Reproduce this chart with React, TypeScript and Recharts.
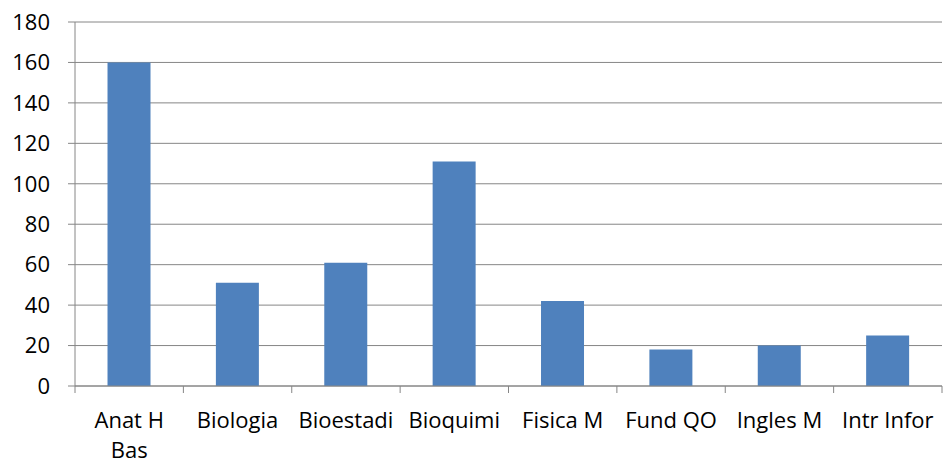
import React from 'react';
import { BarChart, Bar, XAxis, YAxis, CartesianGrid } from 'recharts';

const categories = ['Anat H Bas', 'Biologia', 'Bioestadi', 'Bioquimi', 'Fisica M', 'Fund QO', 'Ingles M', 'Intr Infor'];
const values = [160, 51, 61, 111, 42, 18, 20, 25];
const yTicks = [0, 20, 40, 60, 80, 100, 120, 140, 160, 180];

const data = categories.map((name, i) => ({ name, value: values[i] }));

const W = 943;
const H = 465;
const Y_AXIS_W = 75;
const RIGHT = 1;
const band = (W - Y_AXIS_W - RIGHT) / categories.length;
const axisGrey = '#868686';
const font = '"Open Sans", Lato, sans-serif';
const FONT_SIZE = 22;

let ctx: CanvasRenderingContext2D | null = null;
const measure = (s: string) => {
  if (!ctx) ctx = document.createElement('canvas').getContext('2d');
  if (!ctx) return s.length * 11;
  ctx.font = `${FONT_SIZE}px ${font}`;
  return ctx.measureText(s).width;
};

// greedy word wrap, like Excel does for long category names
const wrap = (label: string, maxW: number) => {
  const lines: string[] = [];
  let cur = '';
  for (const w of label.split(' ')) {
    const next = cur ? `${cur} ${w}` : w;
    if (cur && measure(next) > maxW) {
      lines.push(cur);
      cur = w;
    } else cur = next;
  }
  if (cur) lines.push(cur);
  return lines;
};

const CategoryTick = (props: any) => {
  const { x, y, payload, index } = props;
  const left = x - band / 2;
  const lines = wrap(String(payload.value), 104);
  return (
    <g>
      <line x1={left} x2={left} y1={y - 8} y2={y - 1} stroke={axisGrey} />
      {index === categories.length - 1 && (
        <line x1={left + band} x2={left + band} y1={y - 8} y2={y - 1} stroke={axisGrey} />
      )}
      <text x={x} y={y + 34} textAnchor="middle" fontSize={FONT_SIZE} fontFamily={font} fill="#000">
        {lines.map((l, i) => (
          <tspan key={i} x={x} dy={i === 0 ? 0 : 30}>{l}</tspan>
        ))}
      </text>
    </g>
  );
};

export default function App() {
  return (
    <div style={{ width: W, height: H, background: '#fff' }}>
      <style>{'body{margin:0}'}</style>
      <BarChart width={W} height={H} data={data} margin={{ top: 22, right: RIGHT, left: 0, bottom: 0 }}
        barCategoryGap="30%">
        <CartesianGrid vertical={false} stroke={axisGrey} />
        <XAxis dataKey="name" height={79} tickLine={false} axisLine={{ stroke: axisGrey }}
          interval={0} tick={<CategoryTick />} />
        <YAxis width={Y_AXIS_W} domain={[0, 180]} ticks={yTicks} interval={0}
          tickSize={7} tickMargin={18} tickLine={{ stroke: axisGrey }} axisLine={{ stroke: axisGrey }}
          tick={{ fontSize: FONT_SIZE, fontFamily: font, fill: '#000' }} />
        <Bar dataKey="value" fill="#4F81BD" isAnimationActive={false} />
      </BarChart>
    </div>
  );
}
